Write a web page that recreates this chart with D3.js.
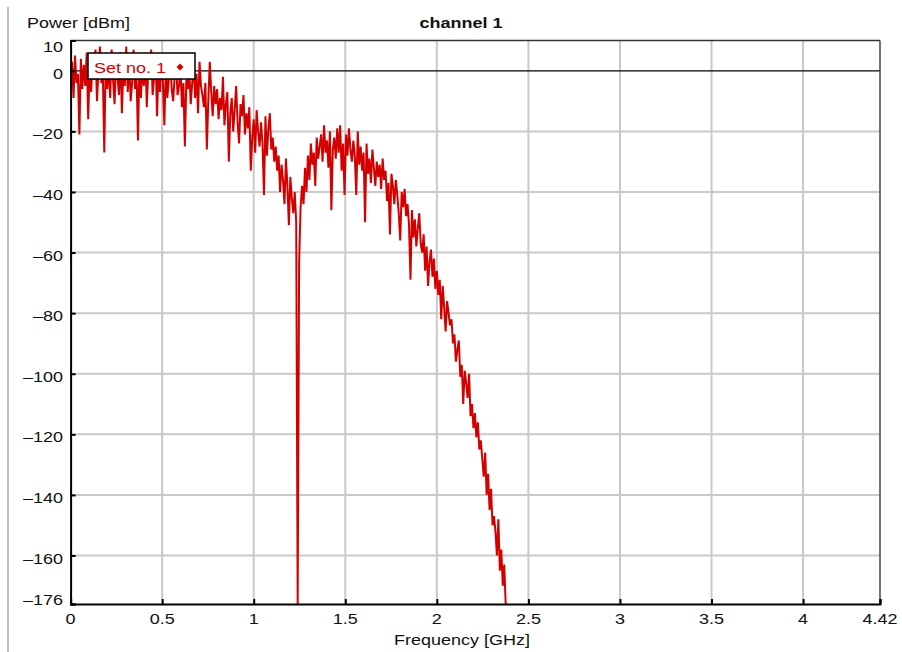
<!DOCTYPE html>
<html>
<head>
<meta charset="utf-8">
<script src="https://cdn.jsdelivr.net/npm/d3@7"></script>
<style>
  html, body { margin: 0; padding: 0; background: #fff; }
  svg { display: block; }
  text { font-family: "Liberation Sans", Arial, sans-serif; }
</style>
</head>
<body>
<svg id="chart" width="902" height="652"></svg>
<script>
// ---- data ----
const chartTitle = "channel 1";
const yAxisTitle = "Power [dBm]";
const xAxisTitle = "Frequency [GHz]";
const seriesName = "Set no. 1";

const xTickValues = [0, 0.5, 1, 1.5, 2, 2.5, 3, 3.5, 4, 4.42];
const xTickLabels = ["0", "0.5", "1", "1.5", "2", "2.5", "3", "3.5", "4", "4.42"];
const yTickValues = [10, 0, -20, -40, -60, -80, -100, -120, -140, -160, -176];
const yTickLabels = ["10", "0", "–20", "–40", "–60", "–80", "–100", "–120", "–140", "–160", "–176"];
const xGridValues = [0.5, 1, 1.5, 2, 2.5, 3, 3.5, 4];
const yGridValues = [-20, -40, -60, -80, -100, -120, -140, -160];

const freqStartGHz = 0;
const freqStepGHz = 0.008;
const powerDbm = [
  -2, 3, -9, 5, -4, -1, -21, 4, -6, 2,
  -5, 6, -16, 1, -7, 3, -3, 7, -10, 0,
  8, -4, -1, -27, 5, -6, 2, -9, 7, -3,
  -11, 4, -2, -8, 6, -14, 1, -5, 8, -7,
  3, -10, -4, 7, -6, -1, -23, 4, -9, 2,
  -5, 6, -12, 0, -3, 7, -8, -2, 5, -15,
  1, -7, 4, -4, -18, 2, -9, -3, 5, -6,
  -10, -2, 3, -8, -5, 1, -12, -4, -25, -3,
  -6, 0, -11, -4, 2, -9, -1, -14, 3, -5,
  -8, -12, -4, -26, -10, 3, -7, -15, -5, -11,
  -6, -16, -9, -13, -2, -18, -11, -7, -30, -14,
  -9, -20, -13, -5, -17, -24, -11, -15, -8, -21,
  -14, -19, -12, -33, -22, -16, -27, -13, -20, -25,
  -17, -24, -41, -15, -28, -19, -14, -26, -22, -30,
  -25, -33, -28, -40, -31, -36, -44, -29, -38, -51,
  -35, -42, -47, -40, -50, -176, -63, -45, -38, -44,
  -32, -40, -28, -36, -24, -31, -27, -38, -22, -29,
  -25, -21, -30, -18, -27, -23, -32, -20, -46, -26,
  -22, -29, -19, -27, -18, -33, -24, -41, -21, -28,
  -19, -26, -30, -23, -28, -41, -20, -31, -25, -33,
  -27, -50, -24, -34, -29, -37, -26, -32, -38, -30,
  -35, -31, -39, -29, -36, -33, -43, -37, -54, -34,
  -38, -44, -36, -41, -47, -56, -40, -45, -39, -48,
  -44, -51, -69, -46, -55, -49, -58, -52, -47, -57,
  -60, -54, -66, -58, -71, -63, -59, -68, -62, -72,
  -66, -74, -69, -82, -71, -78, -86, -76, -80, -84,
  -82, -90, -87, -96, -92, -89, -101, -97, -110, -99,
  -103, -108, -100, -114, -110, -118, -113, -121, -116, -125,
  -122, -128, -134, -126, -140, -133, -145, -138, -150, -147,
  -152, -160, -148, -165, -158, -170, -163, -176, -190
];

// ---- layout ----
const plotLeft = 70.6, plotRight = 880, plotTop = 40.5, plotBottom = 604;
const stretch = 1.2;
const fontSize = 15;

const svg = d3.select("#chart");
const x = d3.scaleLinear().domain([0, 4.42]).range([plotLeft, plotRight]);
const y = d3.scaleLinear().domain([-176, 10]).range([plotBottom, plotTop]);

const data = powerDbm.map((p, i) => ({ f: freqStartGHz + i * freqStepGHz, p }));

function txt(px, py, s, anchor, opts = {}) {
  const t = svg.append("text")
    .attr("transform", `translate(${px},${py}) scale(${stretch},1)`)
    .attr("text-anchor", anchor)
    .attr("font-size", opts.size || fontSize)
    .attr("fill", opts.fill || "#111")
    .text(s);
  if (opts.bold) t.attr("font-weight", "bold");
  return t;
}

// outer left border line
svg.append("line").attr("x1", 8).attr("x2", 8).attr("y1", 7).attr("y2", 652)
  .attr("stroke", "#bdbdbd").attr("stroke-width", 2);

// grid
const grid = svg.append("g");
grid.selectAll("line.gx").data(xGridValues).join("line")
  .attr("x1", d => x(d)).attr("x2", d => x(d))
  .attr("y1", plotTop).attr("y2", plotBottom)
  .attr("stroke", "#c9c9c9").attr("stroke-width", 2);
grid.selectAll("line.gy").data(yGridValues).join("line")
  .attr("x1", plotLeft).attr("x2", plotRight)
  .attr("y1", d => y(d)).attr("y2", d => y(d))
  .attr("stroke", "#c9c9c9").attr("stroke-width", 2);

// zero reference line
svg.append("line").attr("x1", plotLeft).attr("x2", plotRight)
  .attr("y1", y(0)).attr("y2", y(0)).attr("stroke", "#000").attr("stroke-width", 1.3);

// clip
svg.append("clipPath").attr("id", "plotclip").append("rect")
  .attr("x", plotLeft).attr("y", plotTop)
  .attr("width", plotRight - plotLeft).attr("height", plotBottom - plotTop);

// series
const line = d3.line().x(d => x(d.f)).y(d => y(d.p));
svg.append("path").datum(data)
  .attr("clip-path", "url(#plotclip)")
  .attr("d", line)
  .attr("fill", "none")
  .attr("stroke", "#d40000")
  .attr("stroke-width", 2)
  .attr("stroke-linejoin", "miter");

// frame
svg.append("line").attr("x1", plotLeft).attr("x2", plotRight).attr("y1", plotTop).attr("y2", plotTop)
  .attr("stroke", "#333").attr("stroke-width", 1.5);
svg.append("line").attr("x1", plotRight).attr("x2", plotRight).attr("y1", plotTop).attr("y2", plotBottom)
  .attr("stroke", "#444").attr("stroke-width", 1.5);

// axes (ticks inward)
const xAxis = d3.axisBottom(x).tickValues(xTickValues).tickSize(-5).tickFormat("");
const yAxis = d3.axisLeft(y).tickValues(yTickValues).tickSize(-5).tickFormat("");
const gx = svg.append("g").attr("transform", `translate(0,${plotBottom})`).call(xAxis);
const gy = svg.append("g").attr("transform", `translate(${plotLeft},0)`).call(yAxis);
[gx, gy].forEach(g => {
  g.select(".domain").attr("stroke", "#000").attr("stroke-width", 2);
  g.selectAll(".tick line").attr("stroke", "#000").attr("stroke-width", 2);
});

// tick labels
xTickValues.forEach((v, i) => {
  txt(x(v), 624, xTickLabels[i], "middle");
});
yTickValues.forEach((v, i) => {
  let off = 8;
  if (v === 10) off = 11;
  if (v === -176) off = 1;
  txt(63, y(v) + off, yTickLabels[i], "end");
});

// titles
txt(27, 28, yAxisTitle, "start");
txt(461, 28, chartTitle, "middle", { bold: true });
txt(462, 645, xAxisTitle, "middle");

// legend
svg.append("rect").attr("x", 88).attr("y", 53).attr("width", 107).attr("height", 26)
  .attr("fill", "#fff").attr("stroke", "#000").attr("stroke-width", 1.5);
txt(94, 73, seriesName, "start", { fill: "#d40000" });
svg.append("path")
  .attr("d", d3.symbol().type(d3.symbolDiamond).size(22)())
  .attr("transform", "translate(180,67) scale(1.4,0.8)")
  .attr("fill", "#d40000");
</script>
</body>
</html>
